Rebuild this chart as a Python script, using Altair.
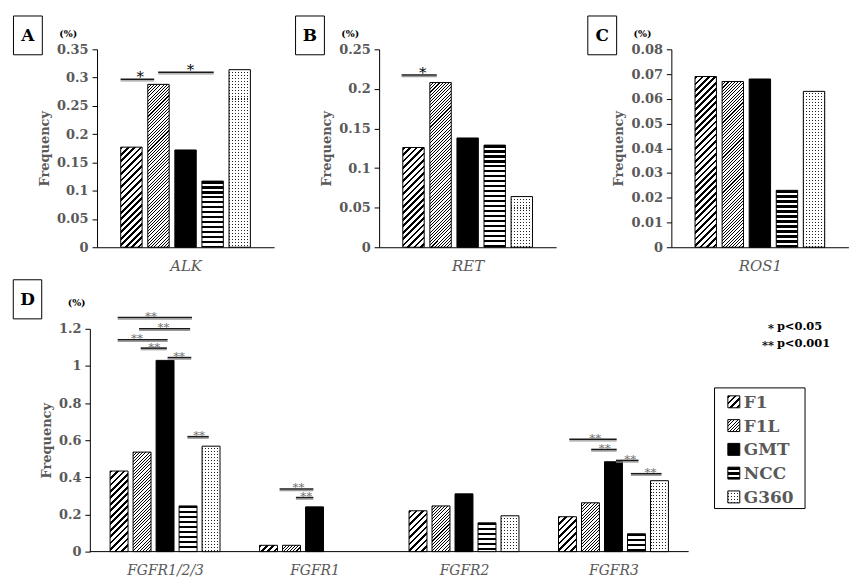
import json
import altair as alt
import pandas as pd

# ---------------- data ----------------
SERIES = ["F1", "F1L", "GMT", "NCC", "G360"]

ALK = [0.177, 0.288, 0.172, 0.117, 0.314]
RET = [0.126, 0.208, 0.138, 0.129, 0.064]
ROS1 = [0.069, 0.067, 0.068, 0.023, 0.063]

FGFR_GENES = ["FGFR1/2/3", "FGFR1", "FGFR2", "FGFR3"]
FGFR_F1 = [0.434, 0.034, 0.220, 0.188]
FGFR_F1L = [0.536, 0.034, 0.246, 0.263]
FGFR_GMT = [1.030, 0.241, 0.311, 0.484]
FGFR_NCC = [0.246, 0.0, 0.155, 0.096]
FGFR_G360 = [0.568, 0.0, 0.193, 0.382]

TICKS_A = [0, 0.05, 0.1, 0.15, 0.2, 0.25, 0.3, 0.35]
TICKS_B = [0, 0.05, 0.1, 0.15, 0.2, 0.25]
TICKS_C = [0, 0.01, 0.02, 0.03, 0.04, 0.05, 0.06, 0.07, 0.08]
TICKS_D = [0, 0.2, 0.4, 0.6, 0.8, 1, 1.2]

# significance brackets (x in bar-slot units, level in % units)
SIG_A_START = [-2.40, -1.01]
SIG_A_END = [-1.16, 1.04]
SIG_A_LEVEL = [0.297, 0.3095]
SIG_A_STAR = [-1.67, 0.18]
SIG_A_LABEL = ["*", "*"]

SIG_B_START = [-2.44]
SIG_B_END = [-1.14]
SIG_B_LEVEL = [0.2175]
SIG_B_STAR = [-1.66]
SIG_B_LABEL = ["*"]

SIG_D_START = [-2.06, -1.13, -2.06, -1.06, 0.11, 0.97, 4.98, 5.69, 17.58, 18.53, 19.61, 20.26]
SIG_D_END = [1.17, 1.09, 0.11, 0.08, 1.14, 1.90, 6.45, 6.45, 19.64, 19.64, 20.59, 21.59]
SIG_D_LEVEL = [1.2605, 1.2, 1.141, 1.096, 1.045, 0.619, 0.3375, 0.291, 0.605, 0.55, 0.491, 0.4195]
SIG_D_STAR = [-0.61, -0.07, -1.22, -0.47, 0.61, 1.48, 5.80, 6.14, 18.71, 19.12, 20.23, 21.11]
SIG_D_LABEL = ["**"] * 12

PVAL_STARS = ["*", "**"]
PVAL_TEXT = ["p<0.05", "p<0.001"]

# ---------------- styling ----------------
FONT = "DejaVu Serif"
GRAY = "#595959"
GROUP_PITCH = 6.5


def stripe_stops(n, frac, on, off):
    stops = []
    k = 0
    while k < n:
        a = round(k / n, 5)
        b = round(min((k + frac) / n, 1.0), 5)
        c = round(min((k + 1) / n, 1.0), 5)
        stops += [
            {"offset": a, "color": on},
            {"offset": b, "color": on},
            {"offset": b, "color": off},
            {"offset": c, "color": off},
        ]
        k += 1
    return stops


def diag_fill(w, h, period, frac):
    s = (w + h) / (w * w + h * h)
    return {"gradient": "linear", "x1": 0, "y1": 0,
            "x2": round(w * s, 5), "y2": round(h * s, 5),
            "stops": stripe_stops((w + h) / period, frac, "black", "white")}


def horiz_fill(h, period, frac, on, off):
    return {"gradient": "linear", "x1": 0, "y1": 0, "x2": 0, "y2": 1,
            "stops": stripe_stops(h / period, frac, on, off)}


def vert_fill(w, period, frac, on, off):
    return {"gradient": "linear", "x1": 0, "y1": 0, "x2": 1, "y2": 0,
            "stops": stripe_stops(w / period, frac, on, off)}


def pattern_fills(series, w, h):
    if series == "F1":
        return [diag_fill(w, h, 6.5, 0.42)]
    if series == "F1L":
        return [diag_fill(w, h, 3.2, 0.33)]
    if series == "GMT":
        return ["black"]
    if series == "NCC":
        return [horiz_fill(h, 5.0, 0.5, "black", "white")]
    return [vert_fill(w, 3.0, 0.34, "#222222", "white"),
            horiz_fill(h, 3.0, 0.66, "white", "rgba(255,255,255,0)")]


def rect_layers(chart, fills, enc):
    out = []
    for j, f in enumerate(fills):
        if j == len(fills) - 1:
            m = chart.mark_rect(fill=f, stroke="black", strokeWidth=1)
        else:
            m = chart.mark_rect(fill=f)
        out.append(m.encode(**enc))
    return out


def bars_frame(groups, values_by_series, bw):
    rows = []
    for g, gene in enumerate(groups):
        for i, s in enumerate(SERIES):
            xc = g * GROUP_PITCH + (i - 2)
            rows.append({"key": f"{gene}|{s}", "gene": gene, "series": s,
                         "xc": xc, "x0": xc - bw / 2, "x1": xc + bw / 2,
                         "val": values_by_series[s][g], "base": 0.0})
    return pd.DataFrame(rows)


def sig_frame(start, end, level, star, label):
    return pd.DataFrame({"xs": start, "xe": end, "lvl": level, "sx": star, "lab": label})


def build_panel(df, xdom, ymax, yticks, W, H, bw, xaxis, sig, star_size,
                star_color, star_dy, letter, box, pct, extra=(), y_offset=0,
                baseline=None):
    xs = alt.Scale(domain=xdom, nice=False, zero=False)
    ys = alt.Scale(domain=[0, ymax], nice=False, zero=True)
    yaxis = alt.Axis(values=yticks, format="~g", title="Frequency",
                     labelFont=FONT, labelFontWeight="bold", labelFontSize=13,
                     labelColor=GRAY, labelPadding=4, tickSize=5,
                     tickColor="black", domainColor="black", grid=False,
                     titleFont=FONT, titleFontWeight="bold", titleFontSize=13,
                     titleColor=GRAY, titlePadding=5, offset=y_offset)

    def X(field):
        return alt.X(field, type="quantitative", scale=xs, axis=xaxis)

    def Y(field):
        return alt.Y(field, type="quantitative", scale=ys, axis=yaxis)

    layers = []
    if baseline is not None:
        layers.append(alt.Chart(baseline).mark_rule(color="black", strokeWidth=1).encode(
            x=X("xa"), x2=alt.X2("xb"), y=Y("y0")))

    px_unit = W / (xdom[1] - xdom[0])
    w = bw * px_unit
    enc = dict(x=X("x0"), x2=alt.X2("x1"), y=Y("val"), y2=alt.Y2("base"))
    for _, r in df.iterrows():
        if r["val"] <= 0:
            continue
        h = r["val"] / ymax * H
        sub = alt.Chart(df).transform_filter(alt.datum.key == r["key"])
        layers += rect_layers(sub, pattern_fills(r["series"], w, h), enc)

    if sig is not None:
        sc = alt.Chart(sig)
        lenc = dict(x=X("xs"), x2=alt.X2("xe"), y=Y("lvl"))
        layers.append(sc.mark_rule(color="#9b9b9b", strokeWidth=1.2, yOffset=1.6).encode(**lenc))
        layers.append(sc.mark_rule(color="#1a1a1a", strokeWidth=1.6).encode(**lenc))
        layers.append(sc.mark_text(font=FONT, fontSize=star_size, color=star_color,
                                   baseline="alphabetic", dy=star_dy).encode(
            x=X("sx"), y=Y("lvl"), text="lab:N"))

    dc = alt.Chart(pd.DataFrame({"t": [letter], "p": ["(%)"]}))
    layers.append(dc.mark_rect(fill="white", fillOpacity=0, stroke="black", strokeWidth=1).encode(
        x=alt.value(box[0]), x2=alt.value(box[1]), y=alt.value(box[2]), y2=alt.value(box[3])))
    layers.append(dc.mark_text(font=FONT, fontSize=17, fontWeight="bold", color="black",
                               baseline="middle").encode(
        x=alt.value((box[0] + box[1]) / 2), y=alt.value((box[2] + box[3]) / 2 + 1), text="t:N"))
    layers.append(dc.mark_text(font=FONT, fontSize=9.5, fontWeight="bold", color="black",
                               baseline="middle").encode(
        x=alt.value(pct[0]), y=alt.value(pct[1]), text="p:N"))
    layers += list(extra)
    return alt.layer(*layers).properties(width=W, height=H)


def top_xaxis(title):
    return alt.Axis(title=title, labels=False, ticks=False, grid=False,
                    domainColor="black", titleFont=FONT, titleFontStyle="italic",
                    titleFontWeight="normal", titleFontSize=15, titleColor=GRAY,
                    titlePadding=11)


TOP_W, TOP_H, TOP_BW = 178, 199, 0.79
TOP_XDOM = [-3.27, 3.27]
TOP_BOX = (-84, -55, -33.5, 5.5)
TOP_PCT = (-29, -15)

df_a = bars_frame(["ALK"], {s: [v] for s, v in zip(SERIES, ALK)}, TOP_BW)
df_b = bars_frame(["RET"], {s: [v] for s, v in zip(SERIES, RET)}, TOP_BW)
df_c = bars_frame(["ROS1"], {s: [v] for s, v in zip(SERIES, ROS1)}, TOP_BW)

panel_a = build_panel(df_a, TOP_XDOM, 0.35, TICKS_A, TOP_W, TOP_H, TOP_BW, top_xaxis("ALK"),
                      sig_frame(SIG_A_START, SIG_A_END, SIG_A_LEVEL, SIG_A_STAR, SIG_A_LABEL),
                      15, "black", 3, "A", TOP_BOX, TOP_PCT)
panel_b = build_panel(df_b, TOP_XDOM, 0.25, TICKS_B, TOP_W, TOP_H, TOP_BW, top_xaxis("RET"),
                      sig_frame(SIG_B_START, SIG_B_END, SIG_B_LEVEL, SIG_B_STAR, SIG_B_LABEL),
                      15, "black", 3, "B", TOP_BOX, TOP_PCT)
panel_c = build_panel(df_c, TOP_XDOM, 0.08, TICKS_C, TOP_W, TOP_H, TOP_BW, top_xaxis("ROS1"),
                      None, 15, "black", 3, "C", TOP_BOX, TOP_PCT)

# ---------------- panel D ----------------
# panel D's axis sits a little left of panel A's, so its plot area starts
# D_SHIFT px to the right of its y axis (axis offset) and a baseline rule
# spans the full axis length.
D_SHIFT = 7.2
D_FULL_W, D_H, D_BW = 602, 224, 0.78
D_FULL_XDOM = [-3.27, 3 * GROUP_PITCH + 3.27]
D_PX_UNIT = D_FULL_W / (D_FULL_XDOM[1] - D_FULL_XDOM[0])
D_W = D_FULL_W - D_SHIFT
D_XDOM = [D_FULL_XDOM[0] + D_SHIFT / D_PX_UNIT, D_FULL_XDOM[1]]
df_d = bars_frame(FGFR_GENES, {"F1": FGFR_F1, "F1L": FGFR_F1L, "GMT": FGFR_GMT,
                               "NCC": FGFR_NCC, "G360": FGFR_G360}, D_BW)
d_base = pd.DataFrame({"xa": [D_FULL_XDOM[0]], "xb": [D_FULL_XDOM[1]], "y0": [0.0]})
d_xaxis = alt.Axis(values=[g * GROUP_PITCH for g in range(len(FGFR_GENES))],
                   labelExpr=f"{json.dumps(FGFR_GENES)}[round(datum.value / {GROUP_PITCH})]",
                   title=None, ticks=False, grid=False, domain=False,
                   labelFont=FONT, labelFontStyle="italic", labelFontSize=14,
                   labelColor=GRAY, labelPadding=12)

LX = -D_SHIFT  # legend x positions are relative to the y axis
legend_layers = []
legend_layers.append(alt.Chart(pd.DataFrame({"t": ["legend"]})).mark_rect(
    fill="white", stroke="black", strokeWidth=1).encode(
    x=alt.value(628 + LX), x2=alt.value(719 + LX), y=alt.value(59.4), y2=alt.value(180.7)))
for i, s in enumerate(SERIES):
    yc = 73.4 + i * 23.9
    one = alt.Chart(pd.DataFrame({"s": [s]}))
    legend_layers += rect_layers(one, pattern_fills(s, 12, 12), dict(
        x=alt.value(641.4 + LX), x2=alt.value(653.4 + LX),
        y=alt.value(yc - 6), y2=alt.value(yc + 6)))
    legend_layers.append(one.mark_text(font=FONT, fontSize=17, fontWeight="bold", color=GRAY,
                                       align="left", baseline="middle").encode(
        x=alt.value(657.4 + LX), y=alt.value(yc + 1), text="s:N"))
for i, (st, tx) in enumerate(zip(PVAL_STARS, PVAL_TEXT)):
    pv = alt.Chart(pd.DataFrame({"a": [st], "b": [tx]}))
    yv = -1.6 + i * 17.3
    legend_layers.append(pv.mark_text(font=FONT, fontSize=11.5, fontWeight="bold", color="black",
                                      align="right", baseline="middle").encode(
        x=alt.value(687.7 + LX), y=alt.value(yv + 2), text="a:N"))
    legend_layers.append(pv.mark_text(font=FONT, fontSize=11.5, fontWeight="bold", color="black",
                                      align="left", baseline="middle").encode(
        x=alt.value(690.7 + LX), y=alt.value(yv), text="b:N"))

panel_d = build_panel(df_d, D_XDOM, 1.2, TICKS_D, D_W, D_H, D_BW, d_xaxis,
                      sig_frame(SIG_D_START, SIG_D_END, SIG_D_LEVEL, SIG_D_STAR, SIG_D_LABEL),
                      12, "#707070", 2.5, "D",
                      (-77 + LX, -48.4 + LX, -49.3, -10), (-13.3 + LX, -26),
                      extra=legend_layers, y_offset=D_SHIFT, baseline=d_base)

top_row = alt.hconcat(alt.hconcat(panel_a, panel_b, spacing=20.6), panel_c, spacing=30.4)
chart = alt.vconcat(top_row, panel_d, spacing=6).properties(
    padding={"left": 4.5, "top": 6, "right": 0, "bottom": 0}
).configure_view(strokeWidth=0).configure_axis(grid=False)

chart.save("out.html", embed_options={"renderer": "svg", "actions": False})
